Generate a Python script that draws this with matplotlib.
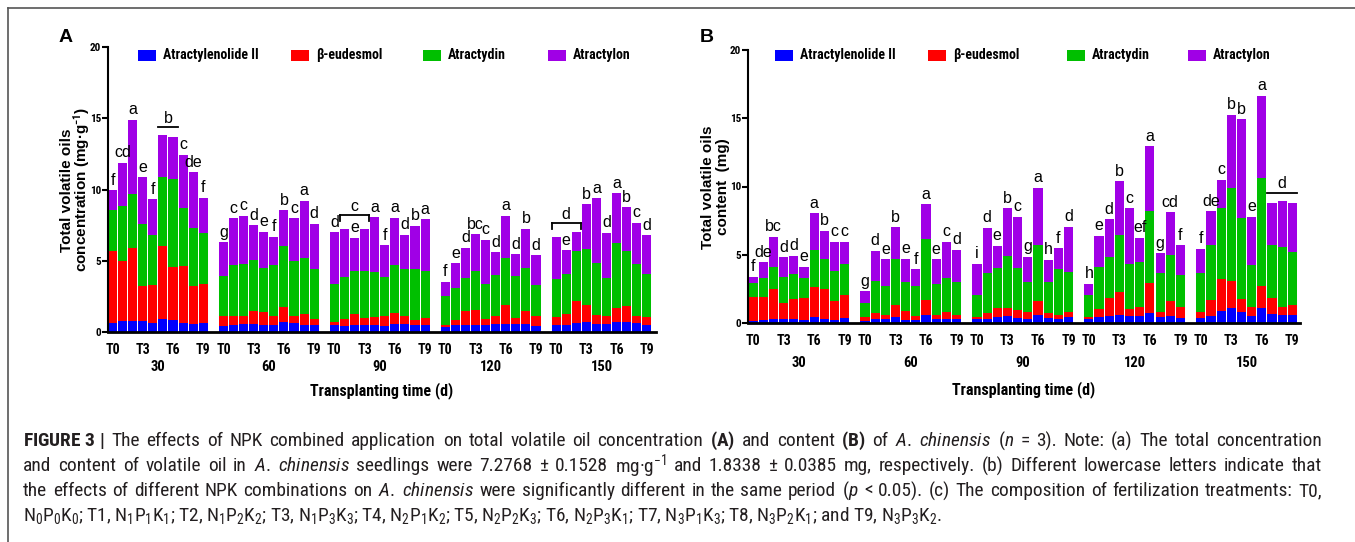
import matplotlib
matplotlib.use('Agg')
import matplotlib.pyplot as plt
import matplotlib.transforms as mtransforms
from matplotlib import font_manager
from matplotlib.lines import Line2D
from matplotlib.patches import Rectangle

# --- Data ---
DAYS = ['30', '60', '90', '120', '150']
TICK_LABELS = ['T0', 'T3', 'T6', 'T9']
COMPONENTS = ['Atractylenolide II', 'β-eudesmol', 'Atractydin', 'Atractylon']
COLORS = ['#0000ff', '#ff0000', '#00bf00', '#a000e6']

# Panel A: concentration (mg·g-1); 5 transplanting times x T0..T9
conc_atractylenolide = [0.65, 0.80, 0.77, 0.80, 0.65, 0.89, 0.84, 0.65, 0.54, 0.65,
                        0.42, 0.49, 0.56, 0.56, 0.47, 0.49, 0.68, 0.61, 0.51, 0.51,
                        0.49, 0.42, 0.49, 0.49, 0.47, 0.44, 0.54, 0.56, 0.49, 0.47,
                        0.37, 0.47, 0.47, 0.49, 0.49, 0.54, 0.54, 0.54, 0.56, 0.42,
                        0.49, 0.47, 0.65, 0.70, 0.56, 0.56, 0.70, 0.70, 0.61, 0.49]
conc_eudesmol = [5.05, 4.18, 5.15, 2.45, 2.62, 5.14, 3.72, 3.98, 2.66, 2.70,
                 0.73, 0.66, 0.59, 0.91, 0.91, 0.66, 1.05, 0.54, 0.78, 0.43,
                 0.24, 0.49, 0.75, 0.51, 0.56, 0.68, 0.79, 0.59, 0.38, 0.51,
                 0.14, 0.37, 1.00, 1.08, 0.40, 0.61, 1.38, 0.42, 0.94, 0.73,
                 0.54, 0.79, 1.53, 1.17, 0.63, 0.54, 0.96, 1.15, 0.51, 0.58]
conc_atractydin = [2.86, 3.89, 3.74, 4.33, 3.53, 4.85, 6.18, 4.05, 4.10, 3.60,
                   2.80, 3.55, 3.60, 3.61, 3.13, 3.55, 4.30, 3.81, 3.90, 3.48,
                   2.64, 2.93, 3.02, 3.26, 3.20, 2.74, 3.35, 3.25, 3.55, 3.28,
                   2.02, 2.27, 2.32, 2.71, 2.50, 2.85, 3.25, 2.97, 2.99, 2.15,
                   2.67, 2.79, 3.48, 3.93, 3.68, 2.71, 4.56, 3.83, 3.65, 3.03]
conc_atractylon = [1.40, 2.99, 5.24, 3.27, 2.51, 2.92, 2.92, 3.74, 3.90, 2.48,
                   2.34, 3.28, 3.39, 2.42, 2.53, 1.99, 2.51, 3.02, 4.03, 3.16,
                   3.63, 3.36, 2.36, 2.99, 3.82, 2.22, 3.34, 2.41, 3.04, 3.64,
                   0.98, 1.71, 2.13, 2.57, 3.09, 1.61, 2.97, 1.52, 2.74, 2.08,
                   2.99, 1.70, 1.38, 3.16, 4.51, 3.16, 3.51, 3.07, 2.88, 2.70]
conc_letters = ['f', 'cd', 'a', 'e', 'f', '', '', 'c', 'de', 'f',
                'g', 'c', 'c', 'd', 'e', 'f', 'b', 'c', 'a', 'd',
                'd', '', 'e', '', 'a', 'f', 'a', 'd', 'b', 'a',
                'f', 'e', 'd', 'bc', 'c', 'd', 'a', 'd', 'b', 'd',
                '', 'e', '', 'b', 'a', 'd', 'a', 'b', 'c', 'd']
# (group, first bar, last bar, letter, bracket ends)
conc_groups = [(0, 5, 6, 'b', False), (2, 1, 3, 'c', True), (4, 0, 2, 'd', True)]

# Panel B: content (mg)
cont_atractylenolide = [0.17, 0.24, 0.27, 0.32, 0.32, 0.22, 0.46, 0.32, 0.22, 0.39,
                        0.12, 0.27, 0.29, 0.46, 0.24, 0.24, 0.61, 0.32, 0.29, 0.29,
                        0.32, 0.32, 0.42, 0.54, 0.39, 0.32, 0.59, 0.34, 0.32, 0.42,
                        0.29, 0.46, 0.51, 0.59, 0.54, 0.54, 0.71, 0.42, 0.54, 0.37,
                        0.34, 0.51, 0.88, 1.07, 0.78, 0.54, 1.07, 0.68, 0.61, 0.56]
cont_eudesmol = [1.76, 1.64, 2.25, 1.12, 1.41, 1.59, 2.20, 2.17, 1.42, 1.69,
                 0.30, 0.44, 0.27, 0.83, 0.64, 0.30, 1.05, 0.27, 0.52, 0.27,
                 0.10, 0.44, 0.68, 0.58, 0.56, 0.51, 1.00, 0.39, 0.27, 0.36,
                 0.13, 0.57, 1.30, 1.71, 0.49, 0.66, 2.20, 0.41, 1.07, 0.80,
                 0.47, 1.17, 2.32, 2.01, 0.98, 0.66, 1.66, 1.13, 0.59, 0.73]
cont_atractydin = [0.97, 1.44, 1.58, 1.91, 1.84, 1.46, 2.69, 2.22, 2.17, 2.24,
                   1.02, 2.39, 2.15, 3.42, 2.12, 2.17, 4.47, 2.27, 2.49, 2.44,
                   1.63, 2.93, 2.95, 3.78, 3.08, 2.20, 4.12, 2.25, 3.34, 2.98,
                   1.63, 3.05, 3.00, 4.15, 3.29, 3.27, 5.29, 2.81, 3.37, 2.32,
                   2.83, 4.03, 5.20, 6.79, 5.91, 3.05, 7.87, 3.90, 4.34, 3.89]
cont_atractylon = [0.49, 1.12, 2.22, 1.46, 1.34, 0.86, 2.68, 2.03, 2.12, 1.61,
                   0.88, 2.20, 1.95, 2.29, 1.71, 1.22, 2.56, 1.80, 2.63, 2.35,
                   2.27, 3.29, 1.59, 3.50, 3.76, 1.81, 4.20, 1.66, 1.54, 3.30,
                   0.81, 2.32, 2.79, 3.93, 4.08, 1.78, 4.74, 1.46, 3.12, 2.22,
                   1.81, 2.49, 2.08, 5.37, 7.25, 3.54, 6.03, 3.11, 3.42, 3.59]
cont_letters = ['f', 'de', 'bc', 'd', 'd', 'e', 'a', 'b', 'c', 'c',
                'g', 'd', 'e', 'b', 'e', 'f', 'a', 'e', 'c', 'd',
                'i', 'd', 'e', 'b', 'c', 'g', 'a', 'h', 'f', 'd',
                'h', 'e', 'd', 'b', 'c', 'ef', 'a', 'g', 'cd', 'f',
                'f', 'de', 'c', 'b', 'b', 'e', 'a', '', '', '']
cont_groups = [(4, 7, 9, 'd', False)]

# caption lines (spaces inside $...$ are written as ~ so the words can be justified)
CAPTION = [
    r"$\mathbf{FIGURE~3~|}$ The effects of NPK combined application on total volatile oil concentration "
    r"$\mathbf{(A)}$ and content $\mathbf{(B)}$ of $\mathit{A.~chinensis}$ ($\mathit{n}$ = 3). Note: (a) The total concentration",
    r"and content of volatile oil in $\mathit{A.~chinensis}$ seedlings were 7.2768 ± 0.1528 mg·g$^{-1}$ "
    r"and 1.8338 ± 0.0385 mg, respectively. (b) Different lowercase letters indicate that",
    r"the effects of different NPK combinations on $\mathit{A.~chinensis}$ were significantly different in the "
    r"same period ($\mathit{p}$ < 0.05). (c) The composition of fertilization treatments: T0,",
    r"N$_0$P$_0$K$_0$; T1, N$_1$P$_1$K$_1$; T2, N$_1$P$_2$K$_2$; T3, N$_1$P$_3$K$_3$; T4, N$_2$P$_1$K$_2$; "
    r"T5, N$_2$P$_2$K$_3$; T6, N$_2$P$_3$K$_1$; T7, N$_3$P$_1$K$_3$; T8, N$_3$P$_2$K$_1$; and T9, N$_3$P$_3$K$_2$.",
]

# pick a condensed face if one is installed
names = {f.name for f in font_manager.fontManager.ttflist}
NARROW = 'Liberation Sans'
for cand in ['Liberation Sans Narrow', 'Roboto Condensed', 'DejaVu Sans Condensed', 'Open Sans Condensed']:
    if cand in names:
        NARROW = cand
        break
plt.rcParams['font.family'] = [NARROW, 'DejaVu Sans']
plt.rcParams['mathtext.fontset'] = 'custom'
plt.rcParams['mathtext.rm'] = NARROW
plt.rcParams['mathtext.it'] = NARROW + ':italic'
plt.rcParams['mathtext.bf'] = NARROW + ':bold'

W, H = 1355, 542


def draw_panel(ax, series, letters, groups, xlim, day_y, xlabel_y):
    x = [g * 11 + i for g in range(len(DAYS)) for i in range(10)]
    bottom = [0.0] * len(x)
    for vals, color, name in zip(series, COLORS, COMPONENTS):
        ax.bar(x, vals, width=0.9, bottom=bottom, color=color, linewidth=0, label=name, zorder=2)
        bottom = [b + v for b, v in zip(bottom, vals)]
    tops = bottom

    # significance letters
    for xi, top, lab in zip(x, tops, letters):
        if lab:
            ax.annotate(lab, (xi, top), xytext=(0, 4), textcoords='offset points',
                        ha='center', va='baseline', fontsize=11.5, family='Liberation Sans')
    for g, i0, i1, lab, ends in groups:
        idx = range(g * 10 + i0, g * 10 + i1 + 1)
        y = max(tops[k] + (1.0 if letters[k] else 0.0) for k in idx) + 0.6
        x0, x1 = x[idx[0]] - 0.45, x[idx[-1]] + 0.45
        ax.plot([x0, x1], [y, y], color='black', lw=1.3, clip_on=False)
        if ends:
            ax.plot([x0, x0], [y, y - 0.4], color='black', lw=1.3)
            ax.plot([x1, x1], [y, y - 0.4], color='black', lw=1.3)
        ax.annotate(lab, ((x0 + x1) / 2, y), xytext=(0, 3), textcoords='offset points',
                    ha='center', va='baseline', fontsize=11.5, family='Liberation Sans')

    ax.set_xlim(*xlim)
    ax.set_ylim(0, 20)
    ax.set_yticks([0, 5, 10, 15, 20])
    ax.tick_params(axis='y', length=4, width=1.5, labelsize=8, pad=1)
    for t in ax.get_yticklabels():
        t.set_fontweight('bold')
    ax.set_xticks([g * 11 + i for g in range(len(DAYS)) for i in (0, 3, 6, 9)])
    ax.set_xticklabels(TICK_LABELS * len(DAYS), fontsize=10, fontweight='bold')
    ax.tick_params(axis='x', length=0, pad=8)
    for s in ('top', 'right'):
        ax.spines[s].set_visible(False)
    ax.spines['left'].set_linewidth(1.5)
    ax.spines['bottom'].set_linewidth(2)
    ax.spines['bottom'].set_zorder(3)

    trans = mtransforms.blended_transform_factory(ax.transData, ax.transAxes)
    for g, day in enumerate(DAYS):
        ax.text(g * 11 + 4.5, day_y, day, transform=trans, ha='center', va='center',
                fontsize=10.5, fontweight='bold')
    ax.text(0.5, xlabel_y, 'Transplanting time (d)', transform=ax.transAxes,
            ha='center', va='center', fontsize=11.5, fontweight='bold')


def draw_legend(fig, patch_x, y):
    # legend row: colour key plus bold label, one entry per component
    for px, color, name in zip(patch_x, COLORS, COMPONENTS):
        fig.add_artist(Rectangle((px / W, 1 - (y + 5.5) / H), 18 / W, 11 / H,
                                 facecolor=color, edgecolor='none'))
        fig.text((px + 25) / W, 1 - y / H, name, ha='left', va='center',
                 fontsize=10, fontweight='bold')


def draw_caption(fig, left=23, right=1322, first_y=441, step=25):
    renderer = fig.canvas.get_renderer()
    # font size: first line about 1240 px before justification
    probe = fig.text(0, 0, CAPTION[0], fontsize=12)
    size = 12 * 1240 / probe.get_window_extent(renderer).width
    probe.remove()
    for k, line in enumerate(CAPTION):
        y = 1 - (first_y + step * k) / H
        if k == len(CAPTION) - 1:
            fig.text(left / W, y, line, ha='left', va='center', fontsize=size, color='#231f20')
            continue
        words = [fig.text(0, y, w, ha='left', va='center', fontsize=size, color='#231f20')
                 for w in line.split(' ')]
        widths = [t.get_window_extent(renderer).width for t in words]
        gap = (right - left - sum(widths)) / (len(words) - 1)
        x = left
        for t, w in zip(words, widths):
            t.set_x(x / W)
            x += w + gap


def main():
    fig = plt.figure(figsize=(W / 100, H / 100), dpi=100)

    # outer frame of the figure box
    fig.add_artist(Line2D([8 / W, 1.2], [1 - 8 / H, 1 - 8 / H], color='#555555', lw=1.2))
    fig.add_artist(Line2D([8 / W, 8 / W], [1 - 8 / H, -0.2], color='#555555', lw=1.2))

    axA = fig.add_axes([108 / W, 1 - 332 / H, 548 / W, 285 / H])
    axB = fig.add_axes([748 / W, 1 - 323 / H, 552 / W, 273 / H])

    draw_panel(axA, [conc_atractylenolide, conc_eudesmol, conc_atractydin, conc_atractylon],
               conc_letters, conc_groups, (-0.45, 53.9), -0.123, -0.204)
    draw_panel(axB, [cont_atractylenolide, cont_eudesmol, cont_atractydin, cont_atractylon],
               cont_letters, cont_groups, (-0.5, 53.75), -0.147, -0.245)

    draw_legend(fig, [138, 291, 423, 548], 55)
    draw_legend(fig, [775, 928, 1067, 1188], 55)

    # y labels, one text per line (wider bold face as in the original)
    for x, yc, line in ((67, 190, 'Total volatile oils'),
                        (82, 190, 'concentration (mg·g$^{\\mathbf{-1}}$)'),
                        (708, 187, 'Total volatile oils'),
                        (723, 187, 'content  (mg)')):
        fig.text(x / W, 1 - yc / H, line, rotation=90, ha='center', va='center',
                 fontsize=11, fontweight='bold', family='Liberation Sans')
    fig.text(66 / W, 1 - 37 / H, 'A', ha='center', va='center', fontsize=14, fontweight='bold',
             family='Liberation Sans')
    fig.text(707 / W, 1 - 37 / H, 'B', ha='center', va='center', fontsize=14, fontweight='bold',
             family='Liberation Sans')

    fig.canvas.draw()
    draw_caption(fig)

    fig.savefig('out.png', dpi=100)


if __name__ == '__main__':
    main()
